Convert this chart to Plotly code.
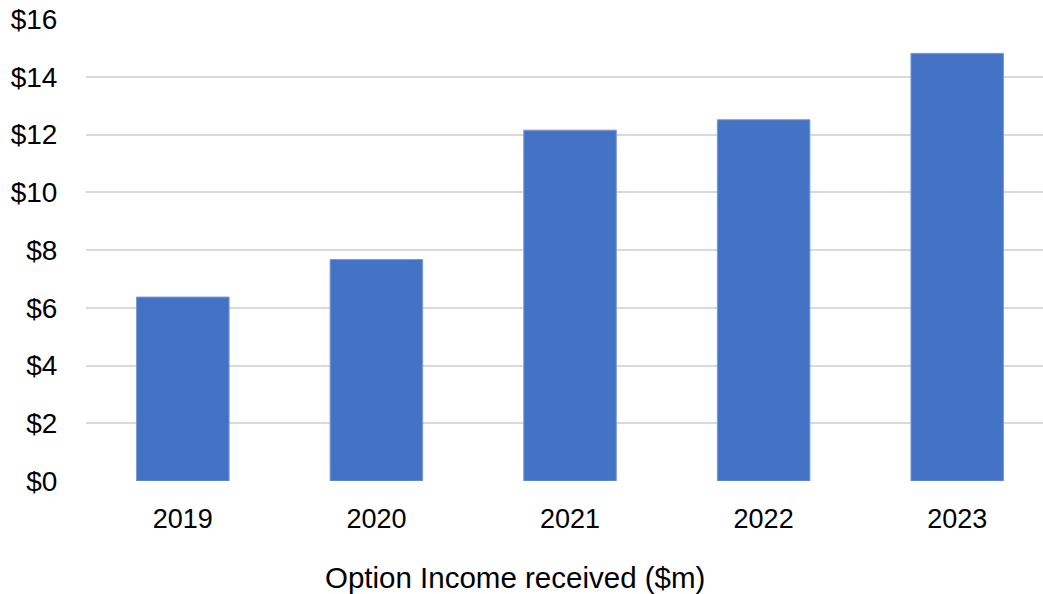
import plotly.graph_objects as go

# Option income received per year, $m
years = ["2019", "2020", "2021", "2022", "2023"]
income = [6.37, 7.67, 12.15, 12.51, 14.81]

y_ticks = [0, 2, 4, 6, 8, 10, 12, 14, 16]
y_tick_text = ["$0", "$2", "$4", "$6", "$8", "$10", "$12", "$14", "$16"]

font_family = "Liberation Sans, Arial, sans-serif"

fig = go.Figure(
    go.Bar(
        x=years,
        y=income,
        marker=dict(color="#4472C4", line=dict(color="#7a9ad6", width=1)),
        hoverinfo="x+y",
    )
)

fig.update_layout(
    width=1043,
    height=594,
    margin=dict(l=86, r=0, t=19, b=113),
    paper_bgcolor="white",
    plot_bgcolor="white",
    bargap=0.522,
    showlegend=False,
    font=dict(family=font_family, size=27, color="#000000"),
    annotations=[
        dict(
            text="Option Income received ($m)",
            x=0.448,
            xref="paper",
            y=-0.208,
            yref="paper",
            yanchor="middle",
            xanchor="center",
            showarrow=False,
            font=dict(family=font_family, size=29.5, color="#000000"),
        )
    ],
)

fig.update_xaxes(
    type="category",
    range=[-0.5, 4.443],
    showgrid=False,
    showline=False,
    zeroline=False,
    ticks="outside",
    ticklen=14,
    tickcolor="rgba(0,0,0,0)",
)

fig.update_yaxes(
    range=[0, 16],
    tickvals=y_ticks,
    ticktext=y_tick_text,
    tickfont=dict(size=28),
    showgrid=True,
    gridcolor="#d9d9d9",
    gridwidth=1.5,
    zeroline=False,
    showline=False,
    ticks="outside",
    ticklen=22,
    tickcolor="rgba(0,0,0,0)",
)

fig.write_html("out.html")
